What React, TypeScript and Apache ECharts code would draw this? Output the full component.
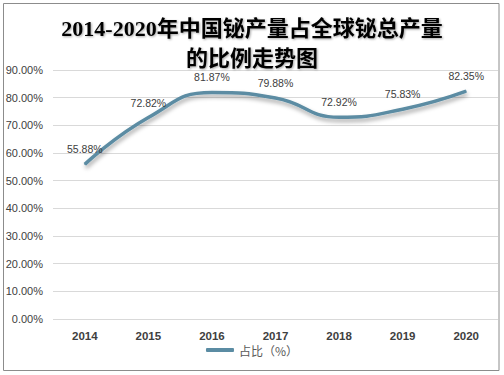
import React, { useEffect, useRef } from "react";
import * as echarts from "echarts";

const titleText = "2014-2020年中国铋产量占全球铋总产量\n的比例走势图";
const years = ["2014", "2015", "2016", "2017", "2018", "2019", "2020"];
const shareValues = [55.88, 72.82, 81.87, 79.88, 72.92, 75.83, 82.35];
const seriesName = "占比（%）";

export default function App() {
  const ref = useRef<HTMLDivElement>(null);
  useEffect(() => {
    if (!ref.current) return;
    const chart = echarts.init(ref.current, null, { renderer: "svg" });
    chart.setOption({
      animation: false,
      backgroundColor: "#ffffff",
      title: {
        text: titleText,
        left: "center",
        top: 8,
        textStyle: {
          fontFamily: "'Liberation Serif', 'Noto Sans CJK SC', serif",
          fontSize: 22,
          fontWeight: "bold",
          lineHeight: 30,
          color: "#000000",
          textShadowColor: "rgba(0,0,0,0.35)",
          textShadowBlur: 2,
          textShadowOffsetX: 1,
          textShadowOffsetY: 1,
        },
      },
      graphic: [
        {
          type: "rect",
          shape: { x: 3.5, y: 3.5, width: 495.5, height: 367 },
          style: { fill: "none", stroke: "#8c8c8c", lineWidth: 1 },
          silent: true,
          z: 100,
        },
      ],
      legend: {
        bottom: 14,
        left: "center",
        itemWidth: 28,
        itemHeight: 4,
        itemGap: 4,
        icon: "roundRect",
        textStyle: {
          fontFamily: "'Noto Sans CJK SC', sans-serif",
          fontSize: 12,
          color: "#595959",
        },
        data: [seriesName],
      },
      grid: { left: 53, right: 6, top: 70, bottom: 56, containLabel: false },
      xAxis: {
        type: "category",
        data: years,
        boundaryGap: true,
        axisLine: { show: false },
        axisTick: { show: false },
        axisLabel: {
          margin: 11,
          fontFamily: "'Liberation Sans', Arial, sans-serif",
          fontSize: 11.5,
          fontWeight: "bold",
          color: "#404040",
        },
      },
      yAxis: {
        type: "value",
        min: 0,
        max: 90,
        interval: 10,
        axisLine: { show: false },
        axisTick: { show: false },
        splitLine: { lineStyle: { color: "#d9d9d9", width: 1 } },
        axisLabel: {
          margin: 10,
          fontFamily: "'Liberation Sans', Arial, sans-serif",
          fontSize: 11,
          color: "#404040",
          formatter: (v: number) => v.toFixed(2) + "%",
        },
      },
      series: [
        {
          name: seriesName,
          type: "line",
          data: shareValues,
          smooth: 0.5,
          showSymbol: true,
          symbol: "circle",
          symbolSize: 1,
          color: "#5b8ca3",
          itemStyle: { color: "#5b8ca3" },
          lineStyle: {
            width: 3.5,
            color: "#5b8ca3",
            shadowColor: "rgba(0,0,0,0.35)",
            shadowBlur: 4,
            shadowOffsetX: 1,
            shadowOffsetY: 3,
          },
          label: {
            show: true,
            position: "top",
            distance: 9,
            fontFamily: "'Liberation Sans', Arial, sans-serif",
            fontSize: 10.5,
            color: "#404040",
            formatter: (p: any) => p.value.toFixed(2) + "%",
          },
        },
      ],
    });
    return () => chart.dispose();
  }, []);
  return (
    <div
      ref={ref}
      style={{ position: "fixed", left: 0, top: 0, width: 504, height: 375 }}
    />
  );
}
